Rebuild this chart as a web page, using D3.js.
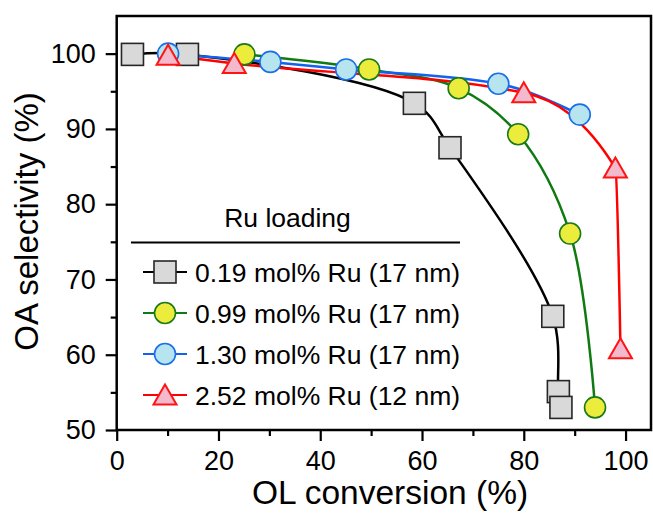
<!DOCTYPE html>
<html>
<head>
<meta charset="utf-8">
<script src="https://cdn.jsdelivr.net/npm/d3@7"></script>
<style>
  body { margin: 0; background: #fff; }
  svg { display: block; font-family: "Liberation Sans", Arial, Helvetica, sans-serif; }
</style>
</head>
<body>
<svg class="selectivity" width="653" height="513"></svg>
<script>
// series names (legend)
const loadings = [
  "0.19 mol% Ru (17 nm)",
  "0.99 mol% Ru (17 nm)",
  "1.30 mol% Ru (17 nm)",
  "2.52 mol% Ru (12 nm)"
]

// OL conversion (%) / OA selectivity (%)
const conv019 = [3.1, 13.9, 58.5, 65.5, 85.7, 86.8, 87.3]
const sel019 = [99.9, 99.9, 93.4, 87.5, 65.1, 55.1, 53.0]

const conv099 = [25.1, 49.6, 67.2, 78.9, 89.1, 94.0]
const sel099 = [99.9, 97.9, 95.4, 89.3, 76.1, 53.0]

const conv130 = [10.1, 30.2, 45.1, 75.0, 91.0]
const sel130 = [100, 98.9, 97.9, 96.0, 91.9]

const conv252 = [10.1, 23.1, 80.0, 98.0, 99.0]
const sel252 = [99.8, 98.7, 94.8, 84.8, 60.8]

// ticks
const xTicks = [0, 20, 40, 60, 80, 100]
const xMinor = [10, 30, 50, 70, 90]
const yTicks = [50, 60, 70, 80, 90, 100]
const yMinor = [55, 65, 75, 85, 95]

const series = [
  { name: loadings[0], x: conv019, y: sel019 },
  { name: loadings[1], x: conv099, y: sel099 },
  { name: loadings[2], x: conv130, y: sel130 },
  { name: loadings[3], x: conv252, y: sel252 }
]

const styles = [
  { shape: "square", line: "#000000", fill: "#d9d9d9", stroke: "#262626", curve: d3.curveCatmullRom.alpha(0.5) },
  { shape: "circle", line: "#0f7a12", fill: "#ecec3c", stroke: "#1a7a18", curve: d3.curveCatmullRom.alpha(0.5) },
  { shape: "circle", line: "#1262ee", fill: "#b6e5f0", stroke: "#1a6fe8", curve: d3.curveMonotoneX },
  { shape: "triangle", line: "#ff0000", fill: "#f3b9cd", stroke: "#ff1414", curve: d3.curveMonotoneX }
]

const svg = d3.select("svg.selectivity")
const m = { left: 116.7, right: 651, top: 16, bottom: 430 }

const x = d3.scaleLinear().domain([0, 105]).range([m.left, m.right])
const y = d3.scaleLinear().domain([50, 105]).range([m.bottom, m.top])

// minor ticks
svg.append("g")
  .attr("transform", `translate(0,${m.bottom})`)
  .call(d3.axisBottom(x).tickValues(xMinor).tickSize(6).tickFormat(""))
svg.append("g")
  .attr("transform", `translate(${m.left},0)`)
  .call(d3.axisLeft(y).tickValues(yMinor).tickSize(6).tickFormat(""))

// major ticks
svg.append("g")
  .attr("transform", `translate(0,${m.bottom})`)
  .call(d3.axisBottom(x).tickValues(xTicks).tickSize(11).tickPadding(10))
svg.append("g")
  .attr("transform", `translate(${m.left},0)`)
  .call(d3.axisLeft(y).tickValues(yTicks).tickSize(11).tickPadding(10))

svg.selectAll(".domain").remove()
svg.selectAll(".tick line").attr("stroke", "#000").attr("stroke-width", 2.2)
svg.selectAll(".tick text")
  .attr("fill", "#000")
  .style("font-size", "27px")
  .style("font-family", "'Liberation Sans', Arial, sans-serif")

// frame
svg.append("rect")
  .attr("x", m.left).attr("y", m.top)
  .attr("width", m.right - m.left).attr("height", m.bottom - m.top)
  .attr("fill", "none").attr("stroke", "#000").attr("stroke-width", 2.5)

// axis titles
svg.append("text")
  .attr("x", 390).attr("y", 504)
  .attr("text-anchor", "middle")
  .style("font-size", "33.5px")
  .text("OL conversion (%)")

svg.append("text")
  .attr("transform", "translate(38,221.5) rotate(-90)")
  .attr("text-anchor", "middle")
  .style("font-size", "33px")
  .text("OA selectivity (%)")

function marker(g, s) {
  if (s.shape === "square") {
    g.append("rect").attr("x", -11).attr("y", -11).attr("width", 22).attr("height", 22)
      .attr("fill", s.fill).attr("stroke", s.stroke).attr("stroke-width", 1.6)
  } else if (s.shape === "circle") {
    g.append("circle").attr("r", 10.5)
      .attr("fill", s.fill).attr("stroke", s.stroke).attr("stroke-width", 1.6)
  } else {
    g.append("path").attr("d", "M0,-10.5L11.5,9.5L-11.5,9.5Z")
      .attr("fill", s.fill).attr("stroke", s.stroke).attr("stroke-width", 2)
  }
}

const plot = svg.append("g")

// lines
series.forEach((s, i) => {
  const pts = s.x.map((v, j) => [v, s.y[j]])
  const line = d3.line()
    .x(d => x(d[0]))
    .y(d => y(d[1]))
    .curve(styles[i].curve)
  plot.append("path")
    .datum(pts)
    .attr("d", line)
    .attr("fill", "none")
    .attr("stroke", styles[i].line)
    .attr("stroke-width", 2.5)
})

// markers
series.forEach((s, i) => {
  const pts = s.x.map((v, j) => [v, s.y[j]])
  plot.selectAll(null)
    .data(pts)
    .enter()
    .append("g")
    .attr("transform", d => `translate(${x(d[0])},${y(d[1])})`)
    .each(function () { marker(d3.select(this), styles[i]) })
})

// legend
const legend = svg.append("g")
legend.append("text")
  .attr("x", 287.5).attr("y", 227)
  .attr("text-anchor", "middle")
  .style("font-size", "26.5px")
  .text("Ru loading")
legend.append("line")
  .attr("x1", 131).attr("x2", 460)
  .attr("y1", 242.5).attr("y2", 242.5)
  .attr("stroke", "#000").attr("stroke-width", 2)

const rowY = d3.scalePoint().domain(loadings).range([272, 395])
loadings.forEach((name, i) => {
  const row = legend.append("g").attr("transform", `translate(0,${rowY(name)})`)
  row.append("line")
    .attr("x1", 143).attr("x2", 187)
    .attr("stroke", styles[i].line).attr("stroke-width", 2)
  const g = row.append("g").attr("transform", "translate(165,0)")
  marker(g, styles[i])
  row.append("text")
    .attr("x", 195).attr("dy", "0.36em")
    .style("font-size", "26.5px")
    .text(name)
})
</script>
</body>
</html>
